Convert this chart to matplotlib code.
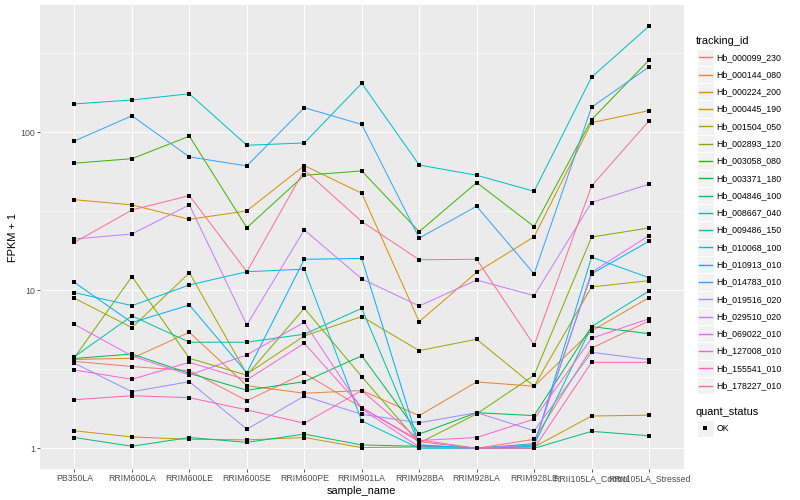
import matplotlib
matplotlib.use("Agg")
import matplotlib.pyplot as plt
from matplotlib.lines import Line2D
from matplotlib.patches import Rectangle

plt.rcParams['font.family'] = ['Liberation Sans', 'DejaVu Sans']

# samples on the x axis
samples = ["PB350LA", "RRIM600LA", "RRIM600LE", "RRIM600SE", "RRIM600PE",
           "RRIM901LA", "RRIM928BA", "RRIM928LA", "RRIM928LE",
           "RRII105LA_Control", "RRII105LA_Stressed"]

# FPKM + 1 per gene, one value per sample
hb_000099_230 = [3.55, 3.29, 3.10, 2.00, 2.98, 1.81, 1.10, 1.00, 1.14, 4.30, 6.40]
hb_000144_080 = [3.65, 3.71, 5.42, 2.49, 2.23, 2.32, 1.61, 2.63, 2.47, 5.53, 8.98]
hb_000224_200 = [37.4, 34.7, 28.1, 31.8, 61.5, 41.1, 6.33, 13.0, 21.8, 115, 137]
hb_000445_190 = [1.29, 1.18, 1.14, 1.13, 1.17, 1.01, 1.02, 1.00, 1.02, 1.60, 1.62]
hb_001504_050 = [8.90, 5.80, 12.9, 2.95, 5.14, 6.81, 4.15, 4.90, 2.47, 10.5, 11.5]
hb_002893_120 = [3.75, 12.2, 3.71, 2.90, 7.69, 2.84, 1.08, 1.65, 2.90, 21.7, 24.8]
hb_003058_080 = [63.7, 68.0, 94.4, 24.9, 53.4, 56.9, 23.5, 48.0, 25.3, 120, 286]
hb_003371_180 = [3.70, 3.95, 2.98, 2.33, 2.64, 3.85, 1.23, 1.68, 1.61, 5.89, 5.31]
hb_004846_100 = [1.17, 1.03, 1.17, 1.09, 1.23, 1.05, 1.03, 1.00, 1.00, 1.28, 1.20]
hb_008667_040 = [3.80, 6.88, 4.69, 4.69, 5.27, 7.69, 1.05, 1.00, 1.05, 5.89, 9.90]
hb_009486_150 = [151, 160, 175, 82.7, 85.5, 204, 62.0, 53.4, 42.3, 223, 469]
hb_010068_100 = [9.66, 7.99, 10.8, 13.1, 13.6, 1.49, 1.00, 1.00, 1.03, 16.2, 12.0]
hb_010913_010 = [11.2, 6.24, 8.07, 3.00, 15.7, 15.9, 1.05, 1.00, 1.07, 12.7, 20.4]
hb_014783_010 = [88.0, 127, 69.8, 61.2, 143, 112, 21.4, 34.0, 12.7, 144, 259]
hb_019516_020 = [3.45, 2.28, 2.64, 1.32, 2.14, 1.64, 1.45, 1.68, 1.29, 4.05, 3.64]
hb_029510_020 = [21.1, 22.7, 34.7, 6.03, 24.1, 11.8, 7.96, 11.6, 9.25, 35.9, 46.9]
hb_069022_010 = [6.08, 3.84, 2.91, 3.90, 6.27, 1.77, 1.02, 1.00, 1.05, 13.0, 22.2]
hb_127008_010 = [3.13, 2.73, 3.50, 2.71, 4.62, 1.81, 1.12, 1.17, 1.53, 4.97, 6.60]
hb_155541_010 = [2.03, 2.15, 2.09, 1.75, 1.44, 2.32, 1.13, 1.00, 1.00, 3.50, 3.50]
hb_178227_010 = [20.1, 32.2, 39.7, 13.1, 57.7, 27.2, 15.6, 15.7, 4.49, 45.7, 118]

genes = ["Hb_000099_230", "Hb_000144_080", "Hb_000224_200", "Hb_000445_190",
         "Hb_001504_050", "Hb_002893_120", "Hb_003058_080", "Hb_003371_180",
         "Hb_004846_100", "Hb_008667_040", "Hb_009486_150", "Hb_010068_100",
         "Hb_010913_010", "Hb_014783_010", "Hb_019516_020", "Hb_029510_020",
         "Hb_069022_010", "Hb_127008_010", "Hb_155541_010", "Hb_178227_010"]
series = [hb_000099_230, hb_000144_080, hb_000224_200, hb_000445_190,
          hb_001504_050, hb_002893_120, hb_003058_080, hb_003371_180,
          hb_004846_100, hb_008667_040, hb_009486_150, hb_010068_100,
          hb_010913_010, hb_014783_010, hb_019516_020, hb_029510_020,
          hb_069022_010, hb_127008_010, hb_155541_010, hb_178227_010]

# ggplot2 hue palette for 20 levels
colors = ["#F8766D", "#EA8331", "#D89000", "#C09B00", "#A3A500", "#7CAE00",
          "#39B600", "#00BB4E", "#00BF7D", "#00C1A3", "#00BFC4", "#00BAE0",
          "#00B0F6", "#35A2FF", "#9590FF", "#C77CFF", "#E76BF3", "#FA62DB",
          "#FF62BC", "#FF6C91"]

W, H = 800, 500
fig = plt.figure(figsize=(W / 72, H / 72), dpi=72)
ax = fig.add_axes([40 / W, 1 - 469.4 / H, (683.5 - 40) / W, (469.4 - 5) / H])
ax.set_facecolor("#EBEBEB")
for s in ax.spines.values():
    s.set_visible(False)

x = list(range(len(samples)))
for vals, c in zip(series, colors):
    ax.plot(x, vals, color=c, lw=1.0, zorder=2)
for vals in series:
    ax.plot(x, vals, ls="none", marker="s", ms=3.4, mew=0, color="black", zorder=3)

ax.set_yscale("log")
ax.set_ylim(10 ** -0.1336, 10 ** 2.805)
ax.set_xlim(-0.6, len(samples) - 0.4)
ax.set_yticks([1, 10, 100])
ax.set_yticklabels(["1", "10", "100"])
ax.set_yticks([10 ** 0.5, 10 ** 1.5, 10 ** 2.5], minor=True)
ax.yaxis.set_minor_formatter(plt.NullFormatter())
ax.set_xticks(x)
ax.set_xticklabels(samples)
ax.tick_params(axis="both", which="major", length=2.75, width=0.8, color="#333333",
               labelsize=8.8, labelcolor="#4D4D4D", pad=2.2)
ax.tick_params(axis="y", which="minor", length=0)
ax.grid(True, which="major", color="white", lw=1.07)
ax.grid(True, which="minor", axis="y", color="white", lw=0.55)
ax.set_axisbelow(True)
ax.set_xlabel("sample_name", fontsize=11, labelpad=2.75)
ax.set_ylabel("FPKM + 1", fontsize=11, labelpad=2.75)

# legend drawn in pixel coordinates, ggplot style
def fx(px):
    return px / W

def fy(py):
    return 1 - py / H

key = 17.28
fig.text(fx(696), fy(40.7), "tracking_id", fontsize=11, va="center", ha="left")
for i, (g, c) in enumerate(zip(genes, colors)):
    yc = 57.3 + i * key
    fig.add_artist(Rectangle((fx(696.5), fy(yc + key / 2)), key / W, key / H,
                             transform=fig.transFigure, facecolor="#F2F2F2",
                             edgecolor="white", lw=1.0, zorder=1))
    fig.add_artist(Line2D([fx(698.5), fx(711.5)], [fy(yc), fy(yc)],
                          transform=fig.transFigure, color=c, lw=1.4, zorder=2))
    fig.text(fx(716.5), fy(yc), g, fontsize=8.8, va="center", ha="left")

fig.text(fx(696), fy(411.7), "quant_status", fontsize=11, va="center", ha="left")
fig.add_artist(Rectangle((fx(696.5), fy(428.3 + key / 2)), key / W, key / H,
                         transform=fig.transFigure, facecolor="#F2F2F2",
                         edgecolor="white", lw=1.0, zorder=1))
fig.add_artist(Line2D([fx(705.1)], [fy(428.3)], transform=fig.transFigure,
                      marker="s", ms=3.4, mew=0, color="black", ls="none", zorder=2))
fig.text(fx(716.5), fy(428.3), "OK", fontsize=8.8, va="center", ha="left")

fig.savefig("out.png", dpi=72)
